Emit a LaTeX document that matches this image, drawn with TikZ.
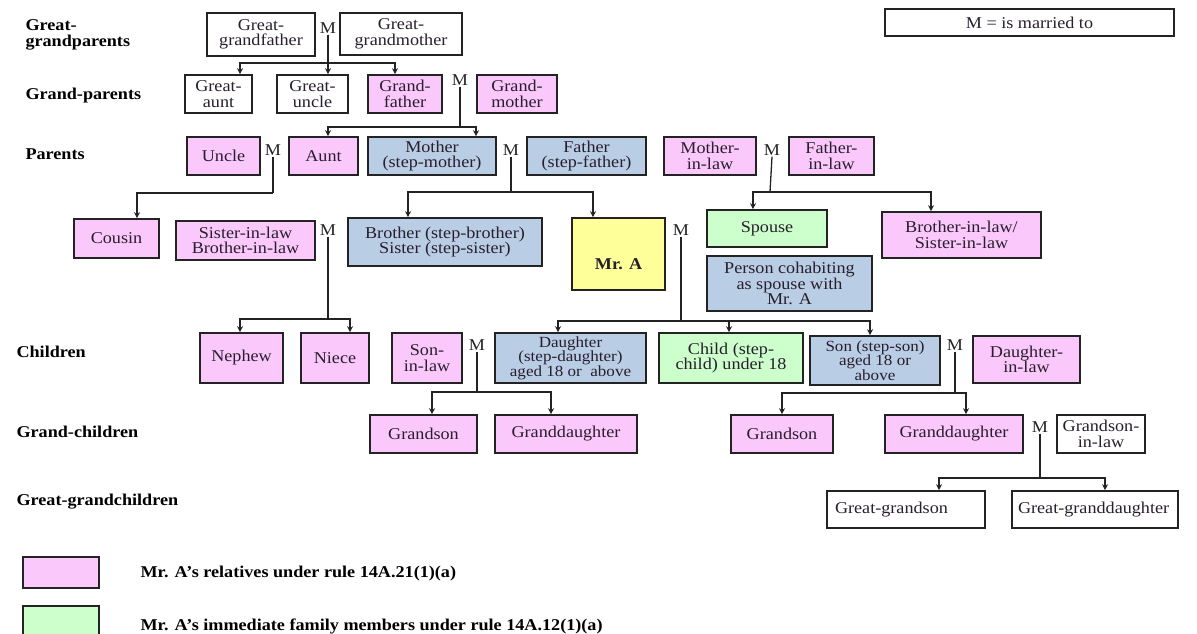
\documentclass[tikz,border=0pt]{standalone}
\usepackage{fontspec}
\setmainfont{Liberation Serif}[FakeStretch=1.1]
\usetikzlibrary{arrows.meta,calc}

\definecolor{relpink}{RGB}{250,200,250}
\definecolor{stepblue}{RGB}{185,205,229}
\definecolor{famgreen}{RGB}{204,255,204}
\definecolor{selfyellow}{RGB}{255,255,153}
\definecolor{edge}{RGB}{35,35,35}
\definecolor{ink}{RGB}{40,30,45}

\begin{document}
\begin{tikzpicture}[x=1pt,y=-1pt,
  every node/.style={font=\fontsize{16.5}{15.5}\selectfont, text=ink},
  person/.style={draw=edge, line width=1.6pt, inner sep=0pt, align=center},
  rel/.style={person, fill=relpink},
  stepfam/.style={person, fill=stepblue},
  imm/.style={person, fill=famgreen},
  other/.style={person, fill=white},
  self/.style={person, fill=selfyellow, font=\fontsize{16.5}{15.5}\selectfont\bfseries},
  mlabel/.style={inner sep=1pt, text=edge},
  rowlabel/.style={anchor=west, align=left, text=black, font=\fontsize{16.5}{20}\selectfont\bfseries},
  keytext/.style={anchor=west, text=black, font=\fontsize{16.5}{15.5}\selectfont\bfseries},
  conn/.style={draw=edge, line width=1.3pt},
  arr/.style={conn, -{Stealth[length=6pt,width=6pt]}},
  dims/.style 2 args={minimum width=#1, minimum height=#2}
]
\useasboundingbox (0,0) rectangle (1197,633);
\clip (0,0) rectangle (1197,633);
\fill[white] (0,0) rectangle (1197,633);

% generation labels
\node[rowlabel] (lggp) at (22,35) {Great-\\[-4pt]grandparents};
\node[rowlabel] (lgp)  at (22,96) {Grand-parents};
\node[rowlabel] (lp)   at (22,154) {Parents};
\node[rowlabel] (lc)   at (13,352) {Children};
\node[rowlabel] (lgc)  at (13,432) {Grand-children};
\node[rowlabel] (lggc) at (13,502) {Great-grandchildren};

% key for M
\node[other, dims={289}{27}] (key) at (1029.5,22.5) {M = is married to};

% great-grandparents
\node[other, dims={108}{43}] (ggf) at (261,34.5) {Great-\\grandfather};
\node[mlabel] (m1) at (328,28) {M};
\node[other, dims={122}{42}] (ggm) at (401,34) {Great-\\grandmother};

% grandparents
\node[other, dims={67}{38}] (gaunt) at (218.5,94) {Great-\\aunt};
\node[other, dims={71}{38}] (guncle) at (312.5,94) {Great-\\uncle};
\node[rel, dims={74}{38}] (gf) at (405,94) {Grand-\\father};
\node[mlabel] (m2) at (460,80) {M};
\node[rel, dims={80}{38}] (gm) at (517,94) {Grand-\\mother};

% parents
\node[rel, dims={73}{38}] (uncle) at (223.5,156) {Uncle};
\node[mlabel] (m3) at (273,150) {M};
\node[rel, dims={69}{38}] (aunt) at (323.5,156) {Aunt};
\node[stepfam, dims={128}{38}] (mother) at (432,156) {Mother\\(step-mother)};
\node[mlabel] (m4) at (511,150) {M};
\node[stepfam, dims={119}{38}] (father) at (586.5,156) {Father\\(step-father)};
\node[rel, dims={92}{38}] (mil) at (710,156) {Mother-\\in-law};
\node[mlabel] (m5) at (772,150) {M};
\node[rel, dims={85}{38}] (fil) at (831.5,156) {Father-\\in-law};

% own generation
\node[rel, dims={85}{39}] (cousin) at (116.5,238.5) {Cousin};
\node[rel, dims={139}{39}] (sibil) at (245.5,240.5) {Sister-in-law\\Brother-in-law};
\node[mlabel] (m6) at (328,230) {M};
\node[stepfam, dims={194}{48}] (sib) at (445,242) {Brother (step-brother)\\Sister (step-sister)};
\node[self, dims={93}{72}, text height=31pt, text depth=0pt] (mra) at (618.5,254) {Mr. A};
\node[mlabel] (m7) at (681,230) {M};
\node[imm, dims={120}{37}] (spouse) at (767,228.5) {Spouse};
\node[stepfam, dims={165}{55}] (cohab) at (789.5,283.5) {Person cohabiting\\as spouse with\\Mr. A};
\node[rel, dims={159}{46}] (bsil) at (961.5,235) {Brother-in-law/\\Sister-in-law};

% children
\node[rel, dims={83}{50}] (nephew) at (241.5,358) {Nephew};
\node[rel, dims={68}{50}] (niece) at (335,358) {Niece};
\node[rel, dims={70}{50}] (sil) at (427,358) {Son-\\in-law};
\node[mlabel] (m8) at (477,345) {M};
\node[stepfam, dims={151}{50}, font=\fontsize{15.5}{14.5}\selectfont] (daughter) at (570.5,358) {Daughter\\(step-daughter)\\aged 18 or~~above};
\node[imm, dims={144}{50}] (child) at (731,358) {Child (step-\\child) under 18};
\node[stepfam, dims={130}{49}, font=\fontsize{15.5}{14.5}\selectfont] (son) at (875,360.5) {Son (step-son)\\aged 18 or\\above};
\node[mlabel] (m9) at (955,345) {M};
\node[rel, dims={107}{47}] (dil) at (1026.5,359.5) {Daughter-\\in-law};

% grandchildren
\node[rel, dims={107}{38}] (gs1) at (423.5,434) {Grandson};
\node[rel, dims={142}{38}] (gd1) at (566,434) {Granddaughter};
\node[rel, dims={102}{38}] (gs2) at (782,434) {Grandson};
\node[rel, dims={138}{38}] (gd2) at (954,434) {Granddaughter};
\node[mlabel] (m10) at (1040,427) {M};
\node[other, dims={88}{38}] (gsil) at (1101,434) {Grandson-\\in-law};

% great-grandchildren (text set flush left)
\node[other, dims={158}{37}, align=left, text width=142, inner xsep=8pt] (ggs) at (906,509.5) {Great-grandson};
\node[other, dims={166}{37}, align=left, text width=154, inner xsep=6pt] (ggd) at (1095,509.5) {Great-granddaughter};

% colour key
\node[rel, dims={76}{31}] (keypink) at (61,572.5) {};
\node[keytext] (keypinktext) at (137,574) {Mr. A’s relatives under rule 14A.21(1)(a)};
\node[imm, dims={76}{31}] (keygreen) at (61,621.5) {};
\node[keytext] (keygreentext) at (137,626) {Mr. A’s immediate family members under rule 14A.12(1)(a)};

% junctions of the descent lines
\coordinate (ja) at (328,63);
\coordinate (jb) at (460,127);
\coordinate (jc) at (273,193);
\coordinate (jd) at (511,192);
\coordinate (je) at (770,192);
\coordinate (jf) at (328,319);
\coordinate (jg) at (681,321);
\coordinate (jh) at (477,392);
\coordinate (ji) at (955,393);
\coordinate (jj) at (1040,478);

% great-grandparents -> grandparents' generation
\draw[arr] (m1.south) -- (m1.south |- guncle.north);
\draw[arr] (ja) -| ([xshift=21.5pt]gaunt.north);
\draw[arr] (ja) -| ([xshift=-10pt]gf.north);

% grandparents -> parents' generation
\draw[conn] (m2.south) -- (jb);
\draw[arr] (jb) -| ([xshift=4.5pt]aunt.north);
\draw[arr] (jb) -| ([xshift=44pt]mother.north);

% uncle & aunt -> cousin
\draw[conn] (m3.south) -- (jc);
\draw[arr] (jc) -| ([xshift=20.5pt]cousin.north);

% parents -> siblings and Mr. A
\draw[conn] (m4.south) -- (jd);
\draw[arr] (jd) -| ([xshift=-37pt]sib.north);
\draw[arr] (jd) -| ([xshift=-25.5pt]mra.north);

% parents-in-law -> spouse and siblings-in-law
\draw[conn] (m5.south) -- (je);
\draw[arr] (je) -| ([xshift=-14pt]spouse.north);
\draw[arr] (je) -| ([xshift=-30.5pt]bsil.north);

% sibling-in-law -> nephew and niece
\draw[conn] (m6.south) -- (jf);
\draw[arr] (jf) -| ([xshift=-1.5pt]nephew.north);
\draw[arr] (jf) -| ([xshift=15pt]niece.north);

% Mr. A -> children
\draw[conn] (m7.south) -- (jg);
\draw[arr] (jg) -| ([xshift=-12.5pt]daughter.north);
\draw[arr] (jg) -| ([xshift=-2pt]child.north);
\draw[arr] (jg) -| ([xshift=-5pt]son.north);

% daughter & son-in-law -> grandchildren
\draw[conn] (m8.south) -- (jh);
\draw[arr] (jh) -| ([xshift=8.5pt]gs1.north);
\draw[arr] (jh) -| ([xshift=-15pt]gd1.north);

% son & daughter-in-law -> grandchildren
\draw[conn] (m9.south) -- (ji);
\draw[arr] (ji) -| (gs2.north);
\draw[arr] (ji) -| ([xshift=12pt]gd2.north);

% granddaughter & grandson-in-law -> great-grandchildren
\draw[conn] (m10.south) -- (jj);
\draw[arr] (jj) -| ([xshift=33pt]ggs.north);
\draw[arr] (jj) -| ([xshift=10pt]ggd.north);
\end{tikzpicture}
\end{document}
